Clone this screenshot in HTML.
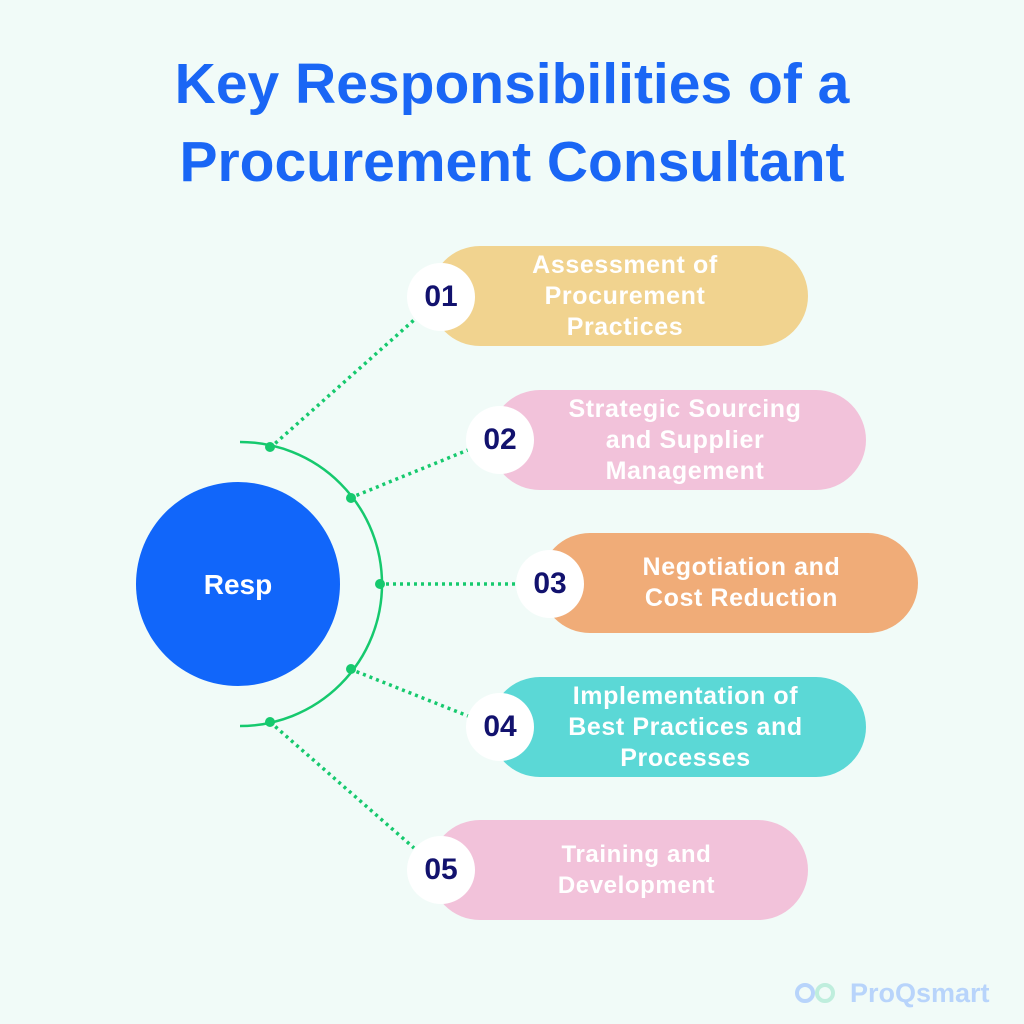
<!DOCTYPE html>
<html><head><meta charset="utf-8"><style>
body{margin:0;width:1024px;height:1024px;background:#f1fbf8;overflow:hidden;font-family:"Liberation Sans",sans-serif}
.t{position:absolute;left:0;width:1024px;text-align:center;color:#1a66f5;font-weight:bold;font-size:57px;line-height:78px}
.pill{position:absolute;height:100px;border-radius:50px;color:#fff;font-weight:bold;font-size:25px;letter-spacing:0.6px;line-height:31px;display:flex;align-items:center;justify-content:center;text-align:center;box-sizing:border-box;white-space:nowrap}
.num{position:absolute;width:68px;height:68px;border-radius:50%;background:#fff;color:#12126e;font-weight:bold;font-size:30px;display:flex;align-items:center;justify-content:center}
</style></head><body>
<div class="t" style="top:45px">Key Responsibilities of a</div>
<div class="t" style="top:123px">Procurement Consultant</div>
<svg width="1024" height="1024" style="position:absolute;left:0;top:0">
<circle cx="238" cy="584" r="102" fill="#1166fa"/>
<text x="238" y="594" fill="#fff" font-family="Liberation Sans" font-weight="bold" font-size="28" text-anchor="middle">Resp</text>
<path d="M240 442 A142 142 0 0 1 240 726" fill="none" stroke="#16c96e" stroke-width="2.5"/>
<g stroke="#16c96e" stroke-width="3.5" stroke-dasharray="3 4">
<line x1="270" y1="448" x2="414" y2="320"/>
<line x1="350" y1="498" x2="468" y2="450"/>
<line x1="379" y1="584" x2="516" y2="584"/>
<line x1="350" y1="669" x2="468" y2="716"/>
<line x1="270" y1="722" x2="414" y2="848"/>
</g>
<g fill="#16c96e">
<circle cx="270" cy="447" r="5"/><circle cx="351" cy="498" r="5"/><circle cx="380" cy="584" r="5"/><circle cx="351" cy="669" r="5"/><circle cx="270" cy="722" r="5"/>
</g>
</svg>
<div class="pill" style="left:430px;top:246px;width:378px;background:#f1d38f;padding-left:12px">Assessment of<br>Procurement<br>Practices</div>
<div class="num" style="left:407px;top:263px">01</div>
<div class="pill" style="left:490px;top:390px;width:376px;background:#f2c2da;padding-left:14px">Strategic Sourcing<br>and Supplier<br>Management</div>
<div class="num" style="left:466px;top:406px">02</div>
<div class="pill" style="left:540px;top:533px;width:378px;background:#f0ac78;padding-left:25px">Negotiation and<br>Cost Reduction</div>
<div class="num" style="left:516px;top:550px">03</div>
<div class="pill" style="left:490px;top:677px;width:376px;background:#5bd8d6;padding-left:15px">Implementation of<br>Best Practices and<br>Processes</div>
<div class="num" style="left:466px;top:693px">04</div>
<div class="pill" style="left:430px;top:820px;width:378px;background:#f2c2da;padding-left:35px;font-size:24px">Training and<br>Development</div>
<div class="num" style="left:407px;top:836px">05</div>
<div style="position:absolute;left:795px;top:981px;width:46px;height:26px">
<svg width="46" height="26"><circle cx="10" cy="12" r="8" fill="none" stroke="#b8d4fb" stroke-width="4"/><circle cx="30" cy="12" r="8" fill="none" stroke="#bfeedd" stroke-width="4"/></svg></div>
<div style="position:absolute;left:850px;top:978px;color:#b8d4fb;font-size:27px;font-weight:bold">ProQsmart</div>
</body></html>
